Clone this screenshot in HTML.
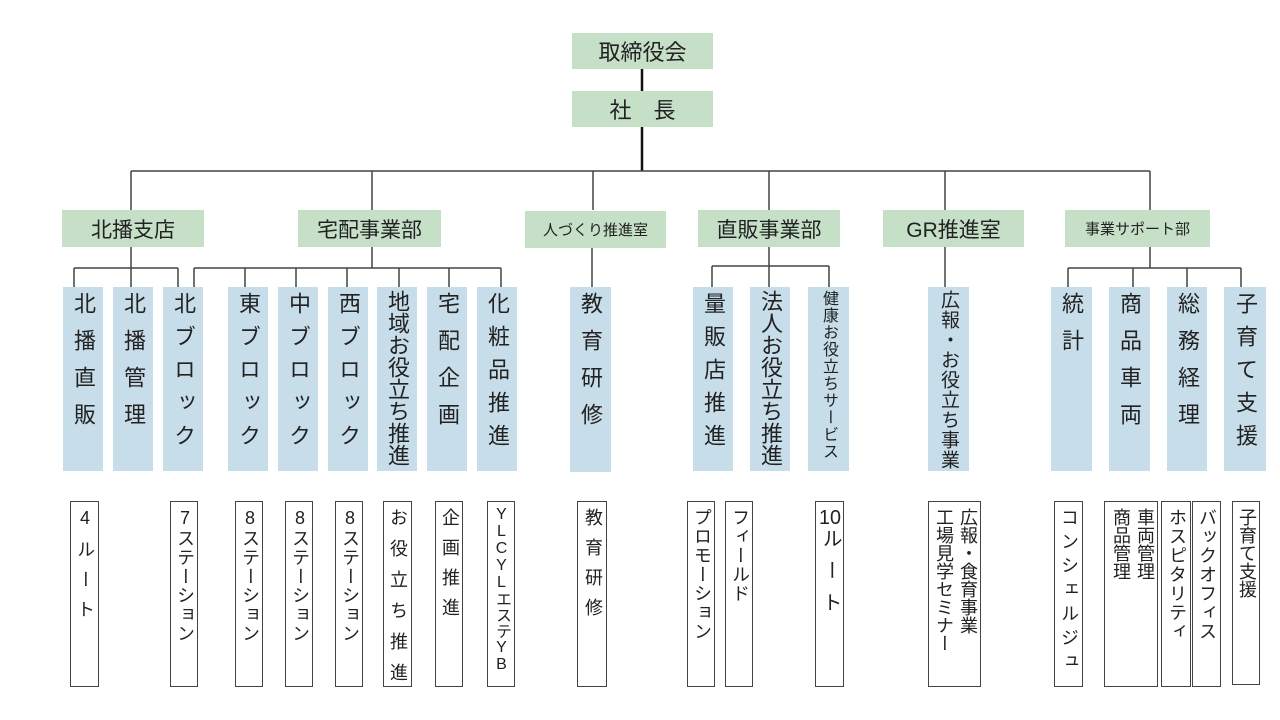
<!DOCTYPE html>
<html><head><meta charset="utf-8">
<style>
body{margin:0;width:1280px;height:720px;background:#fff;position:relative;overflow:hidden;font-family:"Liberation Sans","Noto Sans CJK JP",sans-serif;color:#222}
.g{position:absolute;background:#c6e0c8;display:flex;align-items:center;justify-content:center;font-size:21px;white-space:nowrap}
.b,.w{position:absolute;writing-mode:vertical-rl;text-orientation:upright;box-sizing:border-box;white-space:nowrap}
.b{background:#c7ddea;font-size:22px;padding-top:5px}
.w{border:1.5px solid #444;background:#fff;font-size:18px;padding-top:6px}
.tc{text-combine-upright:all}
</style></head><body>
<svg width="1280" height="720" style="position:absolute;left:0;top:0">
<g stroke="#111" stroke-width="2.5" fill="none">
<path d="M642 69V91M642 127V171"/>
</g>
<g stroke="#444" stroke-width="1.5" fill="none">
<path d="M131 171H1150M131 171V210M372 171V210M593 171V210M769 171V210M945 171V210M1150 171V210"/>
<path d="M131 247V287M74 268H178M74 268V287M178 268V287"/>
<path d="M372 247V268M194 268H501M194 268V287M245 268V287M296 268V287M347 268V287M399 268V287M449 268V287M501 268V287"/>
<path d="M592 247V287"/>
<path d="M769 247V287M712 266H829M712 266V287M829 266V287"/>
<path d="M945 247V287"/>
<path d="M1150 247V268M1068 268H1241M1068 268V287M1133 268V287M1187 268V287M1241 268V287"/>
</g>
</svg>
<div class="g" style="left:572px;top:33px;width:141px;height:36px;font-size:22px">取締役会</div>
<div class="g" style="left:572px;top:91px;width:141px;height:36px;font-size:22px">社&emsp;長</div>

<div class="g" style="left:62px;top:210px;width:142px;height:37px">北播支店</div>
<div class="g" style="left:298px;top:210px;width:143px;height:37px">宅配事業部</div>
<div class="g" style="left:525px;top:211px;width:141px;height:37px;font-size:15px">人づくり推進室</div>
<div class="g" style="left:698px;top:210px;width:142px;height:37px">直販事業部</div>
<div class="g" style="left:883px;top:210px;width:141px;height:37px">GR推進室</div>
<div class="g" style="left:1065px;top:210px;width:145px;height:37px;font-size:15px">事業サポート部</div>

<div class="b" style="left:63px;top:287px;width:40px;height:184px;line-height:40px;letter-spacing:15px">北播直販</div>
<div class="b" style="left:113px;top:287px;width:40px;height:184px;line-height:40px;letter-spacing:15px">北播管理</div>
<div class="b" style="left:163px;top:287px;width:40px;height:184px;line-height:40px;letter-spacing:11px">北ブロック</div>
<div class="b" style="left:228px;top:287px;width:40px;height:184px;line-height:40px;letter-spacing:11px">東ブロック</div>
<div class="b" style="left:278px;top:287px;width:40px;height:184px;line-height:40px;letter-spacing:11px">中ブロック</div>
<div class="b" style="left:328px;top:287px;width:40px;height:184px;line-height:40px;letter-spacing:11px">西ブロック</div>
<div class="b" style="left:377px;top:287px;width:40px;height:184px;line-height:40px;letter-spacing:0px;padding-top:3px">地域お役立ち推進</div>
<div class="b" style="left:427px;top:287px;width:40px;height:184px;line-height:40px;letter-spacing:15px">宅配企画</div>
<div class="b" style="left:477px;top:287px;width:40px;height:184px;line-height:40px;letter-spacing:11px">化粧品推進</div>
<div class="b" style="left:570px;top:287px;width:41px;height:185px;line-height:41px;letter-spacing:15px">教育研修</div>
<div class="b" style="left:693px;top:287px;width:40px;height:184px;line-height:40px;letter-spacing:11px">量販店推進</div>
<div class="b" style="left:750px;top:287px;width:40px;height:184px;line-height:40px;letter-spacing:0px;padding-top:3px">法人お役立ち推進</div>
<div class="b" style="left:808px;top:287px;width:41px;height:184px;line-height:41px;font-size:16px;letter-spacing:1px;padding-top:3px">健康お役立ちサービス</div>
<div class="b" style="left:928px;top:287px;width:41px;height:184px;line-height:41px;font-size:19px;letter-spacing:1px;padding-top:3px">広報・お役立ち事業</div>
<div class="b" style="left:1051px;top:287px;width:41px;height:184px;line-height:41px;letter-spacing:15px">統計</div>
<div class="b" style="left:1109px;top:287px;width:41px;height:184px;line-height:41px;letter-spacing:15px">商品車両</div>
<div class="b" style="left:1167px;top:287px;width:40px;height:184px;line-height:40px;letter-spacing:15px">総務経理</div>
<div class="b" style="left:1224px;top:287px;width:42px;height:184px;line-height:42px;letter-spacing:11px">子育て支援</div>

<div class="w" style="left:70px;top:501px;width:29px;height:186px;line-height:26px;letter-spacing:12px">4ルート</div>
<div class="w" style="left:170px;top:501px;width:28px;height:186px;line-height:25px;letter-spacing:1px">7ステーション</div>
<div class="w" style="left:235px;top:501px;width:28px;height:186px;line-height:25px;letter-spacing:1px">8ステーション</div>
<div class="w" style="left:285px;top:501px;width:28px;height:186px;line-height:25px;letter-spacing:1px">8ステーション</div>
<div class="w" style="left:335px;top:501px;width:28px;height:186px;line-height:25px;letter-spacing:1px">8ステーション</div>
<div class="w" style="left:383px;top:501px;width:29px;height:186px;line-height:26px;letter-spacing:13px">お役立ち推進</div>
<div class="w" style="left:435px;top:501px;width:28px;height:186px;line-height:25px;letter-spacing:12px">企画推進</div>
<div class="w" style="left:487px;top:501px;width:28px;height:186px;line-height:25px;font-size:16px;letter-spacing:0px;padding-top:4px">YLCYLエステYB</div>
<div class="w" style="left:577px;top:501px;width:30px;height:186px;line-height:27px;letter-spacing:12px">教育研修</div>
<div class="w" style="left:687px;top:501px;width:28px;height:186px;line-height:25px;letter-spacing:1px">プロモーション</div>
<div class="w" style="left:725px;top:501px;width:28px;height:186px;line-height:25px;letter-spacing:1px">フィールド</div>
<div class="w" style="left:815px;top:501px;width:29px;height:186px;line-height:26px;letter-spacing:12px;font-size:20px"><span class="tc">10</span>ルート</div>
<div class="w" style="left:928px;top:501px;width:53px;height:186px;line-height:24px;letter-spacing:0px;padding-left:1px">広報・食育事業<br>工場見学セミナー</div>
<div class="w" style="left:1054px;top:501px;width:29px;height:186px;line-height:26px;letter-spacing:6px">コンシェルジュ</div>
<div class="w" style="left:1104px;top:501px;width:54px;height:186px;line-height:24px;letter-spacing:0px;padding-left:2px">車両管理<br>商品管理</div>
<div class="w" style="left:1161px;top:501px;width:30px;height:186px;line-height:27px;letter-spacing:1px">ホスピタリティ</div>
<div class="w" style="left:1192px;top:501px;width:29px;height:186px;line-height:26px;letter-spacing:1px">バックオフィス</div>
<div class="w" style="left:1232px;top:501px;width:28px;height:184px;line-height:25px;letter-spacing:0px">子育て支援</div>
</body></html>
